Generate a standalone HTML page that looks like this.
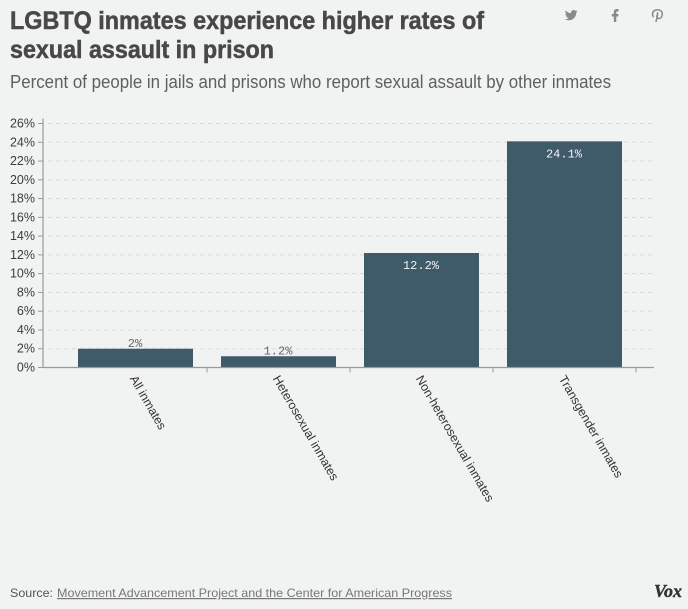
<!DOCTYPE html>
<html lang="en">
<head>
<meta charset="utf-8">
<title>LGBTQ inmates experience higher rates of sexual assault in prison</title>
<style>
  html, body { margin: 0; padding: 0; background: #f1f2f2; }
  body { width: 688px; height: 609px; overflow: hidden; }
  svg { display: block; font-family: "Liberation Sans", sans-serif; }
</style>
</head>
<body>
<svg id="chart" width="688" height="609" viewBox="0 0 688 609">
  <rect width="688" height="609" fill="#f1f2f2"/>

  <text x="10" y="29" font-size="25" font-weight="700" fill="#484848" stroke="#484848" stroke-width="0.5" textLength="474" lengthAdjust="spacingAndGlyphs">LGBTQ inmates experience higher rates of</text>
  <text x="10" y="58" font-size="25" font-weight="700" fill="#484848" stroke="#484848" stroke-width="0.5" textLength="264" lengthAdjust="spacingAndGlyphs">sexual assault in prison</text>
  <text x="10" y="88" font-size="18" fill="#5f5f5f" textLength="601" lengthAdjust="spacingAndGlyphs">Percent of people in jails and prisons who report sexual assault by other inmates</text>

  <g fill="#8a8a8a">
    <path d="M577.5 11.2c-.5.2-1 .4-1.5.4.5-.3 1-.8 1.200-1.400-.5.300-1.100.5-1.700.6-.5-.5-1.200-.8-1.900-.8-1.500 0-2.600 1.200-2.600 2.600 0 .2 0 .4.100.6-2.200-.1-4.100-1.100-5.400-2.700-.2.400-.4.800-.4 1.300 0 .9.500 1.700 1.200 2.200-.4 0-.8-.1-1.200-.3 0 1.300.9 2.300 2.100 2.600-.4.100-.8.100-1.200 0 .3 1 1.300 1.800 2.500 1.800-1.100.8-2.400 1.200-3.900 1.100 1.200.7 2.500 1.100 4 1.100 4.800 0 7.500-4 7.500-7.500v-.3c.5-.4 1-.9 1.300-1.400z"/>
    <path d="M613.800 22v-5.500h-2v-2.500h2v-1.900c0-2 1.200-3.100 3-3.100h1.700v2.400h-1.100c-.9 0-1.100.5-1.100 1.100v1.500h2.200l-.3 2.500h-1.900v5.500z"/>
    <path fill="none" stroke="#8a8a8a" stroke-width="1.500" d="M653.800 17c-1-.8-1.300-2-1.300-3 0-2.600 2.200-4.300 5-4.300 2.900 0 4.800 1.800 4.800 4.200 0 2.800-1.500 4.600-3.600 4.600-1.200 0-2-.8-1.900-1.800l1-4.500M655.900 22l1.900-7.500"/>
  </g>

  <g id="gridlines"></g>
  <g id="bars"></g>
  <g id="y-axis"></g>
  <g id="x-axis"></g>
  <g id="value-labels"></g>

  <text x="10" y="597" font-size="12" fill="#555555" textLength="43" lengthAdjust="spacingAndGlyphs">Source:</text>
  <a>
    <text x="57" y="597" font-size="12" fill="#777777" textLength="395" lengthAdjust="spacingAndGlyphs" text-decoration="underline">Movement Advancement Project and the Center for American Progress</text>
  </a>
  <text x="654" y="597" font-family="'Liberation Serif', serif" font-size="18" font-weight="700" font-style="italic" fill="#333333" stroke="#333333" stroke-width="0.4" textLength="28" lengthAdjust="spacingAndGlyphs">Vox</text>
</svg>

<script>
const categories = ["All inmates", "Heterosexual inmates", "Non-heterosexual inmates", "Transgender inmates"];
const seriesValues = [2, 1.2, 12.2, 24.1];
const valueLabels = ["2%", "1.2%", "12.2%", "24.1%"];
const yTickValues = [0, 2, 4, 6, 8, 10, 12, 14, 16, 18, 20, 22, 24, 26];

const NS = "http://www.w3.org/2000/svg";
const plotLeft = 43, plotRight = 654, plotBottom = 367.5, plotTop = 123.5;
const bandStart = 64, bandWidth = 143, barWidth = 115;
const yMax = 26;

function yScale(v) { return plotBottom - (v / yMax) * (plotBottom - plotTop); }
function xBand(i) { return bandStart + i * bandWidth; }
function xCenter(i) { return xBand(i) + bandWidth / 2; }
function make(tag, parent, attrs) {
  const el = document.createElementNS(NS, tag);
  for (const k in attrs) el.setAttribute(k, attrs[k]);
  parent.appendChild(el);
  return el;
}

const gridG = document.getElementById("gridlines");
const barsG = document.getElementById("bars");
const yG = document.getElementById("y-axis");
const xG = document.getElementById("x-axis");
const labelsG = document.getElementById("value-labels");

yTickValues.forEach(function (t) {
  const y = yScale(t);
  if (t > 0) {
    const grid = make("line", gridG, { x1: plotLeft + 5, x2: plotRight, y1: y, y2: y, stroke: "#d9d9d9", "stroke-width": 1, "stroke-dasharray": "4 4" });
    
    
  }
  const tick = make("line", yG, { x1: plotLeft - 5, x2: plotLeft, y1: y, y2: y, stroke: "#999999", "stroke-width": 1 });
  
  
  const lab = make("text", yG, { x: 35, y: y + 4, "text-anchor": "end", "font-size": 12.5, fill: "#3c3c3c" });
  lab.textContent = t + "%";
  
  
});

const yDomain = make("line", yG, { x1: plotLeft, x2: plotLeft, y1: plotTop - 5, y2: plotBottom, stroke: "#999999", "stroke-width": 1.2 });



seriesValues.forEach(function (v, i) {
  const top = yScale(v);
  const barX = xCenter(i) - barWidth / 2;
  const bar = make("rect", barsG, { x: barX, y: top, width: barWidth, height: plotBottom - top, fill: "#3f5a69" });
  
  

  const inside = v > 5;
  const label = make("text", labelsG, {
    x: xCenter(i) - 0.5,
    y: inside ? top + 16 : top - 1.5,
    "text-anchor": "middle",
    "font-family": "'Liberation Mono', monospace",
    "font-size": 12,
    fill: inside ? "#f1f2f2" : "#666666"
  });
  label.textContent = valueLabels[i];
  
  
});

const xDomain = make("line", xG, { x1: plotLeft, x2: plotRight, y1: plotBottom, y2: plotBottom, stroke: "#999999", "stroke-width": 1.2 });



categories.forEach(function (c, i) {
  const tx = xBand(i) + bandWidth;
  const tick = make("line", xG, { x1: tx, x2: tx, y1: plotBottom, y2: plotBottom + 5, stroke: "#999999", "stroke-width": 1 });
  
  
  const lx = xCenter(i) - 6, ly = plotBottom + 11;
  const lab = make("text", xG, { x: lx, y: ly, "font-size": 12.3, fill: "#333333", transform: "rotate(60 " + lx + " " + ly + ")" });
  lab.textContent = c;
  
  
});
</script>
</body>
</html>
